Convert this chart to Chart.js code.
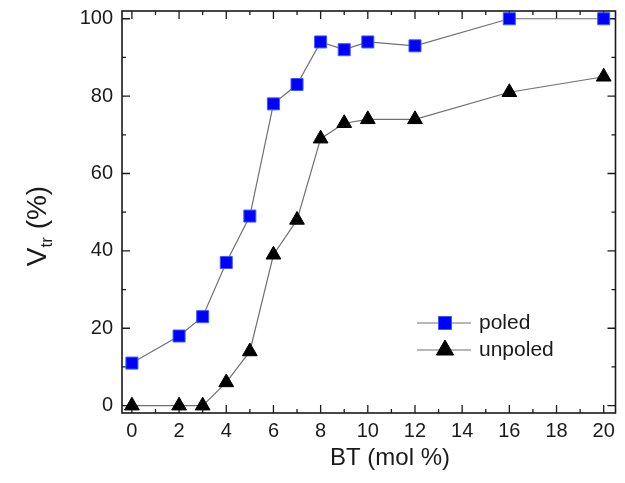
<!DOCTYPE html>
<html>
<head>
<meta charset="utf-8">
<script src="https://cdn.jsdelivr.net/npm/chart.js@4.4.0/dist/chart.umd.min.js"></script>
<style>
html, body { margin: 0; padding: 0; background: #fff; }
</style>
</head>
<body>
<canvas id="chart" width="625" height="483"></canvas>
<script>
// data
const btMol = [0, 2, 3, 4, 5, 6, 7, 8, 9, 10, 12, 16, 20];
const poled = [11, 18, 23, 37, 49, 78, 83, 94, 92, 94, 93, 100, 100];
const unpoled = [0, 0, 0, 6, 14, 39, 48, 69, 73, 74, 74, 81, 85];
const seriesNames = ['poled', 'unpoled'];

const xTicks = [0, 2, 4, 6, 8, 10, 12, 14, 16, 18, 20];
const xMinor = [1, 3, 5, 7, 9, 11, 13, 15, 17, 19];
const yTicks = [0, 20, 40, 60, 80, 100];
const yMinor = [10, 30, 50, 70, 90];

const FONT = "'Liberation Sans', Arial, sans-serif";
const INK = '#1a1a1a';

// frame with inward ticks on all four sides
const framePlugin = {
  id: 'frame',
  beforeDatasetsDraw(chart) {
    const { ctx, chartArea: a, scales: { x, y } } = chart;
    ctx.save();
    ctx.strokeStyle = INK;
    ctx.lineWidth = 1.6;
    ctx.strokeRect(a.left, a.top, a.right - a.left, a.bottom - a.top);
    ctx.lineWidth = 1.3;
    const tick = (vals, len) => {
      vals.forEach(v => {
        const px = x.getPixelForValue(v);
        ctx.beginPath();
        ctx.moveTo(px, a.bottom); ctx.lineTo(px, a.bottom - len);
        ctx.moveTo(px, a.top); ctx.lineTo(px, a.top + len);
        ctx.stroke();
      });
    };
    const tickY = (vals, len) => {
      vals.forEach(v => {
        const py = y.getPixelForValue(v);
        ctx.beginPath();
        ctx.moveTo(a.left, py); ctx.lineTo(a.left + len, py);
        ctx.moveTo(a.right, py); ctx.lineTo(a.right - len, py);
        ctx.stroke();
      });
    };
    tick(xTicks, 8); tick(xMinor, 4);
    tickY(yTicks, 8); tickY(yMinor, 4);
    ctx.restore();
  }
};

// axis titles (y title has a subscript) and the inset legend
const labelsPlugin = {
  id: 'labels',
  afterDraw(chart) {
    const { ctx } = chart;
    ctx.save();
    ctx.fillStyle = INK;

    ctx.font = '24px ' + FONT;
    ctx.textAlign = 'center';
    ctx.textBaseline = 'alphabetic';
    ctx.fillText('BT (mol %)', 390, 465);

    // V_tr (%)
    ctx.translate(46, 226);
    ctx.rotate(-Math.PI / 2);
    const big = '28px ' + FONT, small = '17px ' + FONT;
    ctx.font = big; const wV = ctx.measureText('V').width;
    const wRest = ctx.measureText(' (%)').width;
    ctx.font = small; const wSub = ctx.measureText('tr').width;
    let cx = -(wV + wSub + wRest) / 2;
    ctx.textAlign = 'left';
    ctx.font = big; ctx.fillText('V', cx, 0); cx += wV;
    ctx.font = small; ctx.fillText('tr', cx, 6); cx += wSub;
    ctx.font = big; ctx.fillText(' (%)', cx, 0);
    ctx.setTransform(1, 0, 0, 1, 0, 0);

    // legend
    const rows = [323, 350];
    chart.data.datasets.forEach((ds, i) => {
      const ly = rows[i];
      ctx.strokeStyle = ds.borderColor;
      ctx.lineWidth = ds.borderWidth;
      ctx.beginPath(); ctx.moveTo(417, ly); ctx.lineTo(471, ly); ctx.stroke();
      ctx.fillStyle = ds.pointBackgroundColor;
      ctx.strokeStyle = ds.pointBorderColor;
      ctx.lineWidth = 1;
      Chart.helpers.drawPoint(ctx, {
        pointStyle: ds.pointStyle,
        radius: ds.pointStyle === 'triangle' ? 10 : 9.2,
        borderWidth: 1
      }, 445, ly);
      ctx.fillStyle = INK;
      ctx.font = '21px ' + FONT;
      ctx.textAlign = 'left';
      ctx.textBaseline = 'middle';
      ctx.fillText(ds.label, 479, ly);
    });
    ctx.restore();
  }
};

new Chart(document.getElementById('chart'), {
  type: 'line',
  data: {
    datasets: [
      {
        label: seriesNames[0],
        data: btMol.map((b, i) => ({ x: b, y: poled[i] })),
        borderColor: '#707070',
        borderWidth: 1.2,
        pointStyle: 'rect',
        pointRadius: 8.5,
        pointHoverRadius: 8.5,
        pointBackgroundColor: '#0000ff',
        pointBorderColor: '#3a5cff',
        pointBorderWidth: 1,
        clip: false
      },
      {
        label: seriesNames[1],
        data: btMol.map((b, i) => ({ x: b, y: unpoled[i] })),
        borderColor: '#707070',
        borderWidth: 1.2,
        pointStyle: 'triangle',
        pointRadius: 8.5,
        pointHoverRadius: 8.5,
        pointBackgroundColor: '#000000',
        pointBorderColor: '#000000',
        pointBorderWidth: 1,
        clip: false
      }
    ]
  },
  options: {
    responsive: false,
    animation: false,
    events: [],
    layout: { padding: { top: 11, right: 8, left: 0, bottom: 0 } },
    plugins: { legend: { display: false }, tooltip: { enabled: false } },
    scales: {
      x: {
        type: 'linear',
        min: -0.42,
        max: 20.5,
        grid: { display: false, drawTicks: false },
        border: { display: false },
        afterBuildTicks: s => { s.ticks = xTicks.map(v => ({ value: v })); },
        afterFit: s => { s.height = 70; s.paddingLeft = 0; s.paddingRight = 0; },
        ticks: {
          color: INK,
          font: { family: FONT, size: 20 },
          padding: 6,
          maxRotation: 0,
          autoSkip: false
        }
      },
      y: {
        type: 'linear',
        min: -1.9,
        max: 102,
        grid: { display: false, drawTicks: false },
        border: { display: false },
        afterBuildTicks: s => { s.ticks = yTicks.map(v => ({ value: v })); },
        afterFit: s => { s.width = 122; s.paddingTop = 0; s.paddingBottom = 0; },
        ticks: {
          color: INK,
          font: { family: FONT, size: 20 },
          padding: 9,
          autoSkip: false
        }
      }
    }
  },
  plugins: [framePlugin, labelsPlugin]
});
</script>
</body>
</html>
